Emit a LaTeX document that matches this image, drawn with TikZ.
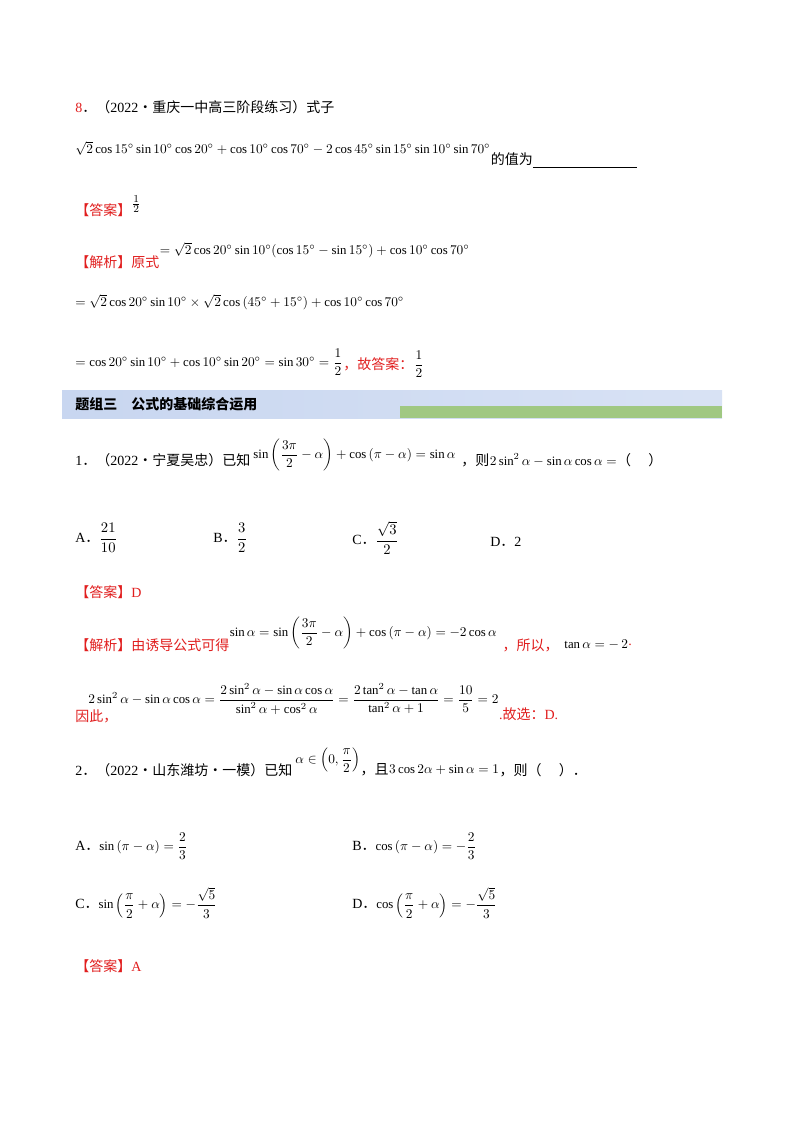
\documentclass[tikz,border=0pt]{standalone}
\usepackage{amsmath}
\usepackage{fontspec}
\setmainfont{Liberation Serif}
\newfontfamily\cjk{Noto Sans CJK SC}
\definecolor{ansred}{RGB}{225,30,30}
\definecolor{bandblue}{RGB}{200,214,240}
\definecolor{bandgreen}{RGB}{160,200,130}
\begin{document}
\begin{tikzpicture}[x=0.75pt,y=-0.75pt,
  txt/.style={anchor=west,inner sep=0pt,font=\fontsize{10.5}{12}\selectfont},
  mth/.style={anchor=west,inner sep=0pt,font=\fontsize{9.6}{12}\selectfont},
  red/.style={txt,text=ansred}]
\useasboundingbox (0,0) rectangle (800,1132);
\fill[white] (0,0) rectangle (800,1132);
% Q8
\node[red] (n8) at (75,107) {8\textcolor{black}{{\cjk ．（}2022{\cjk ·重庆一中高三阶段练习）式子}}};
\node[mth] (f8) at (75,148) {$\sqrt2\cos15^\circ\sin10^\circ\cos20^\circ+\cos10^\circ\cos70^\circ-2\cos45^\circ\sin15^\circ\sin10^\circ\sin70^\circ$};
\node[txt] (v8) at (f8.east |- 0,160) {{\cjk 的值为}\rule[-2pt]{78pt}{0.5pt}};
\node[red] (a8) at (75,210) {\cjk 【答案】};
\node[mth] (a8v) at (a8.east |- 0,204) {\fontsize{11}{12}\selectfont$\frac12$};
\node[red] (j8) at (75,262) {\cjk 【解析】原式};
\node[mth] (j8f) at (j8.east |- 0,250) {$=\sqrt2\cos20^\circ\sin10^\circ(\cos15^\circ-\sin15^\circ)+\cos10^\circ\cos70^\circ$};
\node[mth] (l2) at (75,302) {$=\sqrt2\cos20^\circ\sin10^\circ\times\sqrt2\cos\left(45^\circ+15^\circ\right)+\cos10^\circ\cos70^\circ$};
\node[mth] (l3) at (75,362) {$=\cos20^\circ\sin10^\circ+\cos10^\circ\sin20^\circ=\sin30^\circ=\dfrac12$};
\node[red] (l3b) at (l3.east |- 0,364) {\cjk ，故答案：};
\node[mth] (l3c) at (l3b.east |- 0,364) {$\dfrac12$};
% band
\shade[left color=bandblue,right color=bandblue!70] (62,390) rectangle (722,418);
\fill[bandgreen] (400,406) rectangle (722,418);
\node[txt,font=\fontsize{10.5}{12}\selectfont\cjk\bfseries] (hd) at (75,404) {题组三\quad 公式的基础综合运用};
% Q1
\node[txt] (q1) at (75,460) {1{\cjk ．（}2022{\cjk ·宁夏吴忠）已知}};
\node[mth] (q1f) at ([xshift=2pt]q1.east |- 0,455) {$\sin\left(\dfrac{3\pi}{2}-\alpha\right)+\cos\left(\pi-\alpha\right)=\sin\alpha$};
\node[txt] (q1g) at ([xshift=4pt]q1f.east |- 0,460) {{\cjk ，则}};
\node[mth] (q1h) at (q1g.east |- 0,460) {$2\sin^2\alpha-\sin\alpha\cos\alpha=$};
\node[txt] (q1i) at (q1h.east |- 0,460) {\cjk （\quad\ ）};
\node[txt] (o1a) at (75,538) {A{\cjk ．}$\dfrac{21}{10}$};
\node[txt] (o1b) at (213,538) {B{\cjk ．}$\dfrac{3}{2}$};
\node[txt] (o1c) at (352,538) {C{\cjk ．}$\dfrac{\sqrt3}{2}$};
\node[txt] (o1d) at (490,542) {D{\cjk ．}2};
\node[red] (a1) at (75,592) {{\cjk 【答案】}D};
\node[red] (j1) at (75,645) {\cjk 【解析】由诱导公式可得};
\node[mth] (j1f) at (j1.east |- 0,633) {$\sin\alpha=\sin\left(\dfrac{3\pi}{2}-\alpha\right)+\cos\left(\pi-\alpha\right)=-2\cos\alpha$};
\node[red] (j1g) at ([xshift=4pt]j1f.east |- 0,645) {\cjk ，所以，};
\node[mth] (j1h) at ([xshift=4pt]j1g.east |- 0,645) {$\tan\alpha=-\,2$};
\node[red] (j1k) at (j1h.east |- 0,645) {.};
\node[red] (j1x) at (75,716) {\cjk 因此，};
\node[mth] (j1i) at (88,699) {$2\sin^2\alpha-\sin\alpha\cos\alpha=\dfrac{2\sin^2\alpha-\sin\alpha\cos\alpha}{\sin^2\alpha+\cos^2\alpha}=\dfrac{2\tan^2\alpha-\tan\alpha}{\tan^2\alpha+1}=\dfrac{10}{5}=2$};
\node[red] (j1j) at (j1i.east |- 0,714) {.{\cjk 故选：}D.};
% Q2
\node[txt] (q2) at (75,770) {2{\cjk ．（}2022{\cjk ·山东潍坊·一模）已知}};
\node[mth] (q2f) at ([xshift=2pt]q2.east |- 0,760) {$\alpha\in\left(0,\dfrac{\pi}{2}\right)$};
\node[txt] (q2g) at (q2f.east |- 0,770) {\cjk ，且};
\node[mth] (q2h) at (q2g.east |- 0,770) {$3\cos2\alpha+\sin\alpha=1$};
\node[txt] (q2i) at (q2h.east |- 0,770) {\cjk ，则（\quad\ ）．};
\node[mth] (o2a) at (75,846) {{\fontsize{10.5}{12}\selectfont A\cjk ．}$\sin\left(\pi-\alpha\right)=\dfrac23$};
\node[mth] (o2b) at (352,846) {{\fontsize{10.5}{12}\selectfont B\cjk ．}$\cos\left(\pi-\alpha\right)=-\dfrac23$};
\node[mth] (o2c) at (75,903) {{\fontsize{10.5}{12}\selectfont C\cjk ．}$\sin\left(\dfrac{\pi}{2}+\alpha\right)=-\dfrac{\sqrt5}{3}$};
\node[mth] (o2d) at (352,903) {{\fontsize{10.5}{12}\selectfont D\cjk ．}$\cos\left(\dfrac{\pi}{2}+\alpha\right)=-\dfrac{\sqrt5}{3}$};
\node[red] (a2) at (75,966) {{\cjk 【答案】}A};
\end{tikzpicture}
\end{document}
